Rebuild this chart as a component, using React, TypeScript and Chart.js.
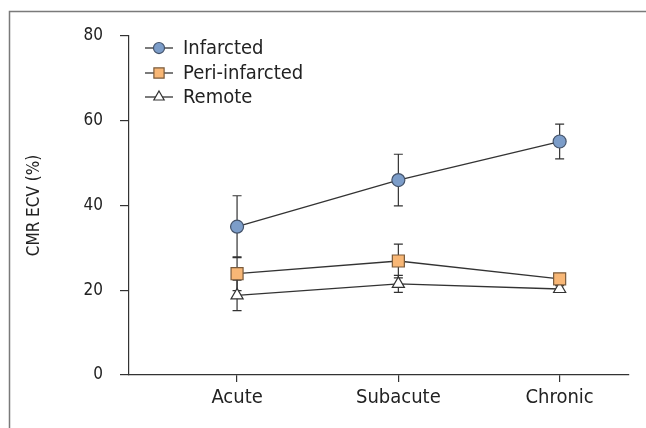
import React, { useEffect, useRef } from "react";
import { Chart, registerables } from "chart.js";

Chart.register(...registerables);

const categories = ["Acute", "Subacute", "Chronic"];
const seriesNames = ["Infarcted", "Peri-infarcted", "Remote"];
const infarcted = [35.0, 46.0, 55.1];
const infarctedErr = [7.3, 6.1, 4.1];
const periInfarcted = [23.9, 26.9, 22.7];
const periInfarctedErr = [4.0, 4.0, 1.0];
const remote = [18.8, 21.5, 20.3];
const remoteErr = [3.6, 2.0, 0.8];
const yTicks = [0, 20, 40, 60, 80];

const FONT = "'Liberation Sans Narrow', 'DejaVu Sans Condensed', 'Liberation Sans', sans-serif";
const INK = "#333333";

const styles = [
  { fill: "#7c9dc9", stroke: "#44536a", shape: "circle", r: 6.5 },
  { fill: "#f8b776", stroke: "#7a5a3a", shape: "rect", r: 8.5 },
  { fill: "#ffffff", stroke: "#333333", shape: "triangle", r: 7 },
];

function drawMarker(ctx: CanvasRenderingContext2D, shape: string, x: number, y: number, r: number, fill: string, stroke: string) {
  ctx.save();
  ctx.beginPath();
  if (shape === "circle") {
    ctx.arc(x, y, r, 0, Math.PI * 2);
  } else if (shape === "rect") {
    const s = r * Math.SQRT1_2;
    ctx.rect(x - s, y - s, 2 * s, 2 * s);
  } else {
    const h = r * 1.5;
    const w = h / Math.sqrt(3);
    ctx.moveTo(x, y - r);
    ctx.lineTo(x + w, y - r + h);
    ctx.lineTo(x - w, y - r + h);
    ctx.closePath();
  }
  ctx.fillStyle = fill;
  ctx.fill();
  ctx.lineWidth = 1.2;
  ctx.strokeStyle = stroke;
  ctx.stroke();
  ctx.restore();
}

const errorsBySeries = [infarctedErr, periInfarctedErr, remoteErr];

const framePlugin = {
  id: "frame",
  beforeDraw(chart: any) {
    const ctx = chart.ctx;
    ctx.save();
    ctx.fillStyle = "#ffffff";
    ctx.fillRect(0, 0, chart.width, chart.height);
    ctx.strokeStyle = "#7a7a7a";
    ctx.lineWidth = 1.5;
    ctx.beginPath();
    ctx.moveTo(9.5, chart.height + 2);
    ctx.lineTo(9.5, 11.5);
    ctx.lineTo(chart.width + 2, 11.5);
    ctx.stroke();
    ctx.restore();
  },
};

const errorBarPlugin = {
  id: "errorBars",
  beforeDatasetsDraw(chart: any) {
    const ctx = chart.ctx;
    const xs = chart.scales.x;
    const ys = chart.scales.y;
    ctx.save();
    ctx.strokeStyle = INK;
    ctx.lineWidth = 1.2;
    chart.data.datasets.forEach((ds: any, di: number) => {
      const errs = errorsBySeries[di];
      ds.data.forEach((p: any, i: number) => {
        const e = errs[i];
        const x = xs.getPixelForValue(p.x);
        const yTop = ys.getPixelForValue(p.y + e);
        const yBot = ys.getPixelForValue(p.y - e);
        ctx.beginPath();
        ctx.moveTo(x, yTop);
        ctx.lineTo(x, yBot);
        ctx.moveTo(x - 4.5, yTop);
        ctx.lineTo(x + 4.5, yTop);
        ctx.moveTo(x - 4.5, yBot);
        ctx.lineTo(x + 4.5, yBot);
        ctx.stroke();
      });
    });
    ctx.restore();
  },
};

const legendPlugin = {
  id: "customLegend",
  afterDraw(chart: any) {
    const ctx = chart.ctx;
    const x0 = 145;
    const x1 = 173;
    const rows = [48, 73, 97];
    ctx.save();
    seriesNames.forEach((name, i) => {
      const y = rows[i];
      ctx.strokeStyle = INK;
      ctx.lineWidth = 1.3;
      ctx.beginPath();
      ctx.moveTo(x0, y);
      ctx.lineTo(x1, y);
      ctx.stroke();
      const st = styles[i];
      drawMarker(ctx, st.shape, (x0 + x1) / 2, y, st.r * 0.85, st.fill, st.stroke);
      ctx.fillStyle = "#222222";
      ctx.font = `20px ${FONT}`;
      ctx.textBaseline = "middle";
      ctx.textAlign = "left";
      ctx.fillText(name, 183, y + 1);
    });
    ctx.restore();
  },
};

export default function App() {
  const ref = useRef<HTMLCanvasElement | null>(null);
  useEffect(() => {
    document.body.style.margin = "0";
    const canvas = ref.current!;
    const series = [infarcted, periInfarcted, remote];
    const chart = new Chart(canvas, {
      type: "line",
      data: {
        datasets: series.map((vals, si) => ({
          label: seriesNames[si],
          data: vals.map((v, i) => ({ x: i, y: v })),
          borderColor: INK,
          borderWidth: 1.3,
          backgroundColor: styles[si].fill,
          pointBackgroundColor: styles[si].fill,
          pointBorderColor: styles[si].stroke,
          pointBorderWidth: 1.2,
          pointStyle: styles[si].shape as any,
          pointRadius: styles[si].r,
          pointHoverRadius: styles[si].r,
          tension: 0,
          fill: false,
        })),
      },
      options: {
        responsive: false,
        animation: false,
        layout: { padding: { top: 36, right: 17, left: 0, bottom: 0 } },
        plugins: { legend: { display: false }, tooltip: { enabled: false } },
        scales: {
          x: {
            type: "linear",
            min: -0.67,
            max: 2.43,
            afterBuildTicks(scale: any) {
              scale.ticks = categories.map((_, i) => ({ value: i }));
            },
            afterFit(scale: any) {
              scale.height = 53;
            },
            ticks: {
              callback: (v: any) => categories[v as number] ?? "",
              color: "#222222",
              font: { family: FONT, size: 20 },
              padding: 4,
              maxRotation: 0,
              autoSkip: false,
            },
            grid: { drawOnChartArea: false, drawTicks: true, tickLength: 7, color: INK, lineWidth: 1.2 },
            border: { display: true, color: INK, width: 1.2 },
          },
          y: {
            min: 0,
            max: 80,
            afterBuildTicks(scale: any) {
              scale.ticks = yTicks.map((v) => ({ value: v }));
            },
            afterFit(scale: any) {
              scale.width = 129;
            },
            title: {
              display: true,
              text: "CMR ECV (%)",
              color: "#222222",
              font: { family: FONT, size: 17 },
              padding: { top: 24, bottom: 0 },
            },
            ticks: {
              color: "#222222",
              font: { family: FONT, size: 17 },
              padding: 17,
            },
            grid: { drawOnChartArea: false, drawTicks: true, tickLength: 9, color: INK, lineWidth: 1.2 },
            border: { display: true, color: INK, width: 1.2 },
          },
        },
      },
      plugins: [framePlugin, errorBarPlugin, legendPlugin],
    });
    return () => chart.destroy();
  }, []);
  return <canvas ref={ref} width={646} height={428} style={{ display: "block" }} />;
}
